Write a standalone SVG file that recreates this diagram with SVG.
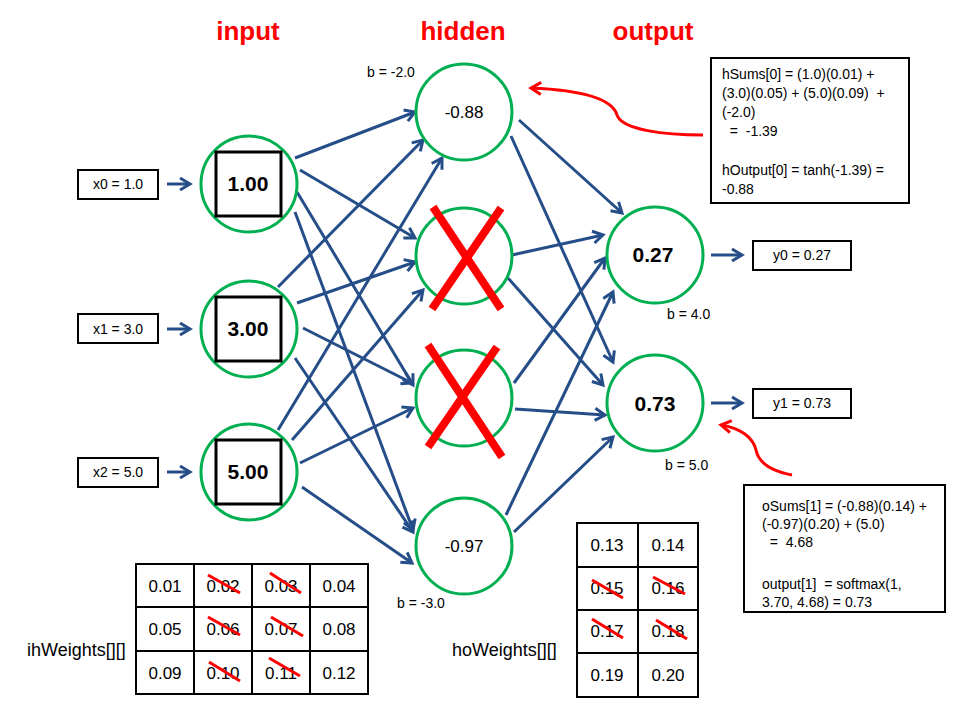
<svg xmlns="http://www.w3.org/2000/svg" width="960" height="720" viewBox="0 0 960 720">
<defs>
<style>
text{font-family:"Liberation Sans",Arial,sans-serif;fill:#000}
.title{font-size:26px;font-weight:bold;fill:#FF0000;text-anchor:middle}
.node{fill:#fff;stroke:#00B050;stroke-width:3}
.sq{fill:none;stroke:#000;stroke-width:3}
.box{fill:#fff;stroke:#000;stroke-width:2}
.val{font-size:21px;font-weight:bold;text-anchor:middle}
.hval{font-size:17px;text-anchor:middle}
.sm{font-size:14px}
.smc{font-size:14px;text-anchor:middle}
.note{font-size:14px}
.cell{font-size:17px;text-anchor:middle}
.lbl{font-size:18px}
.conn{stroke:#254E88;stroke-width:3;fill:none;marker-end:url(#ah)}
.x{stroke:#FF0000;stroke-width:8;stroke-linecap:butt}
.strike{stroke:#FF0000;stroke-width:3}
.tbl{fill:none;stroke:#000;stroke-width:2}
.red{stroke:#FF0000;stroke-width:3;fill:none;marker-end:url(#rh)}
</style>
<marker id="ah" markerUnits="userSpaceOnUse" markerWidth="16" markerHeight="16" viewBox="0 0 16 16" refX="13" refY="8" orient="auto"><path d="M3,2 L13,8 L3,14" fill="none" stroke="#254E88" stroke-width="3"/></marker>
<marker id="rh" markerUnits="userSpaceOnUse" markerWidth="16" markerHeight="16" viewBox="0 0 16 16" refX="13" refY="8" orient="auto"><path d="M3,2 L13,8 L3,14" fill="none" stroke="#FF0000" stroke-width="3"/></marker>
</defs>
<rect width="960" height="720" fill="#fff"/>

<g id="titles">
<text class="title" x="248" y="40">input</text>
<text class="title" x="463" y="40">hidden</text>
<text class="title" x="653" y="40">output</text>
</g>

<g id="connectors">
<line class="conn" x1="167" y1="184" x2="190" y2="184"/>
<line class="conn" x1="167" y1="329" x2="190" y2="329"/>
<line class="conn" x1="167" y1="472" x2="190" y2="472"/>
<line class="conn" x1="295" y1="158" x2="415" y2="112"/>
<line class="conn" x1="300" y1="170" x2="415" y2="238"/>
<line class="conn" x1="297" y1="192" x2="413" y2="385"/>
<line class="conn" x1="295" y1="212" x2="413" y2="530"/>
<line class="conn" x1="278" y1="287" x2="423" y2="140"/>
<line class="conn" x1="297" y1="303" x2="415" y2="262"/>
<line class="conn" x1="303" y1="328" x2="412" y2="383"/>
<line class="conn" x1="295" y1="358" x2="413" y2="532"/>
<line class="conn" x1="278" y1="430" x2="442" y2="158"/>
<line class="conn" x1="292" y1="440" x2="423" y2="290"/>
<line class="conn" x1="300" y1="463" x2="413" y2="408"/>
<line class="conn" x1="302" y1="487" x2="412" y2="563"/>
<line class="conn" x1="519" y1="120" x2="622" y2="213"/>
<line class="conn" x1="511" y1="136" x2="613" y2="362"/>
<line class="conn" x1="512" y1="255" x2="603" y2="235"/>
<line class="conn" x1="508" y1="278" x2="603" y2="385"/>
<line class="conn" x1="514" y1="383" x2="605" y2="258"/>
<line class="conn" x1="515" y1="409" x2="605" y2="415"/>
<line class="conn" x1="506" y1="515" x2="613" y2="292"/>
<line class="conn" x1="514" y1="532" x2="613" y2="437"/>
<line class="conn" x1="711" y1="255" x2="742" y2="255"/>
<line class="conn" x1="711" y1="403" x2="742" y2="403"/>
<path class="red" d="M703,135 C665,135 622,130 617,115 C612,98 580,90 531,88"/>
<path class="red" d="M792,475 C766,470 758,460 756,450 C753,437 740,428 721,425"/>
</g>

<g id="x0"><rect class="box" x="78" y="170" width="80" height="29"/><text class="smc" x="118" y="189">x0 = 1.0</text></g>
<g id="x1"><rect class="box" x="78" y="314" width="80" height="29"/><text class="smc" x="118" y="334">x1 = 3.0</text></g>
<g id="x2"><rect class="box" x="78" y="458" width="80" height="29"/><text class="smc" x="118" y="477">x2 = 5.0</text></g>

<g id="in0"><circle class="node" cx="249" cy="184" r="48"/><rect class="sq" x="216" y="152" width="65" height="64"/><text class="val" x="248" y="191">1.00</text></g>
<g id="in1"><circle class="node" cx="249" cy="329" r="48"/><rect class="sq" x="216" y="297" width="65" height="64"/><text class="val" x="248" y="336">3.00</text></g>
<g id="in2"><circle class="node" cx="249" cy="472" r="48"/><rect class="sq" x="216" y="440" width="65" height="64"/><text class="val" x="248" y="479">5.00</text></g>

<g id="h0"><circle class="node" cx="464" cy="112" r="48"/><text class="hval" x="464" y="118">-0.88</text><text class="sm" x="367" y="77">b = -2.0</text></g>
<g id="h1"><circle class="node" cx="464" cy="256" r="48"/><line class="x" x1="433" y1="207" x2="501" y2="309"/><line class="x" x1="501" y1="208" x2="432" y2="309"/></g>
<g id="h2"><circle class="node" cx="464" cy="398" r="48"/><line class="x" x1="428" y1="345" x2="502" y2="457"/><line class="x" x1="497" y1="347" x2="428" y2="447"/></g>
<g id="h3"><circle class="node" cx="464" cy="546" r="48"/><text class="hval" x="464" y="552">-0.97</text><text class="sm" x="397" y="608">b = -3.0</text></g>

<g id="o0"><circle class="node" cx="655" cy="255" r="48"/><text class="val" x="653" y="262">0.27</text><text class="sm" x="667" y="319">b = 4.0</text></g>
<g id="o1"><circle class="node" cx="655" cy="403" r="48"/><text class="val" x="655" y="411">0.73</text><text class="sm" x="665" y="470">b = 5.0</text></g>

<g id="y0"><rect class="box" x="753" y="241" width="98" height="29"/><text class="smc" x="802" y="260">y0 = 0.27</text></g>
<g id="y1"><rect class="box" x="753" y="389" width="98" height="29"/><text class="smc" x="802" y="408">y1 = 0.73</text></g>

<g id="note-hidden">
<rect class="box" x="711" y="58" width="198" height="145"/>
<text class="note" x="722" y="79">hSums[0] = (1.0)(0.01) +</text>
<text class="note" x="722" y="98" xml:space="preserve">(3.0)(0.05) + (5.0)(0.09)  +</text>
<text class="note" x="722" y="117">(-2.0)</text>
<text class="note" x="722" y="136" xml:space="preserve">  =  -1.39</text>
<text class="note" x="722" y="175">hOutput[0] = tanh(-1.39) =</text>
<text class="note" x="722" y="194">-0.88</text>
</g>

<g id="note-output">
<rect class="box" x="744" y="485" width="201" height="127"/>
<text class="note" x="762" y="511">oSums[1] = (-0.88)(0.14) +</text>
<text class="note" x="762" y="529">(-0.97)(0.20) + (5.0)</text>
<text class="note" x="762" y="547" xml:space="preserve">  =  4.68</text>
<text class="note" x="762" y="589" xml:space="preserve">output[1]  = softmax(1,</text>
<text class="note" x="762" y="607">3.70, 4.68) = 0.73</text>
</g>

<g id="ihWeights">
<rect class="tbl" x="136" y="564" width="232" height="130"/>
<line class="tbl" x1="194" y1="564" x2="194" y2="694"/>
<line class="tbl" x1="252" y1="564" x2="252" y2="694"/>
<line class="tbl" x1="310" y1="564" x2="310" y2="694"/>
<line class="tbl" x1="136" y1="607" x2="368" y2="607"/>
<line class="tbl" x1="136" y1="651" x2="368" y2="651"/>
<text class="cell" x="165" y="592">0.01</text>
<text class="cell" x="223" y="592">0.02</text>
<text class="cell" x="281" y="592">0.03</text>
<text class="cell" x="339" y="592">0.04</text>
<text class="cell" x="165" y="635">0.05</text>
<text class="cell" x="223" y="635">0.06</text>
<text class="cell" x="281" y="635">0.07</text>
<text class="cell" x="339" y="635">0.08</text>
<text class="cell" x="165" y="679">0.09</text>
<text class="cell" x="223" y="679">0.10</text>
<text class="cell" x="281" y="679">0.11</text>
<text class="cell" x="339" y="679">0.12</text>
<line class="strike" x1="208" y1="575" x2="240" y2="593"/>
<line class="strike" x1="270" y1="573" x2="301" y2="593"/>
<line class="strike" x1="208" y1="617" x2="240" y2="635"/>
<line class="strike" x1="271" y1="617" x2="303" y2="636"/>
<line class="strike" x1="209" y1="662" x2="240" y2="681"/>
<line class="strike" x1="269" y1="658" x2="300" y2="676"/>
<text class="lbl" x="27" y="656">ihWeights[][]</text>
</g>

<g id="hoWeights">
<rect class="tbl" x="577" y="523" width="121" height="174"/>
<line class="tbl" x1="638" y1="523" x2="638" y2="697"/>
<line class="tbl" x1="577" y1="567" x2="698" y2="567"/>
<line class="tbl" x1="577" y1="610" x2="698" y2="610"/>
<line class="tbl" x1="577" y1="653" x2="698" y2="653"/>
<text class="cell" x="607" y="551">0.13</text>
<text class="cell" x="668" y="551">0.14</text>
<text class="cell" x="607" y="594">0.15</text>
<text class="cell" x="668" y="594">0.16</text>
<text class="cell" x="607" y="637">0.17</text>
<text class="cell" x="668" y="637">0.18</text>
<text class="cell" x="607" y="681">0.19</text>
<text class="cell" x="668" y="681">0.20</text>
<line class="strike" x1="592" y1="580" x2="623" y2="598"/>
<line class="strike" x1="653" y1="577" x2="685" y2="594"/>
<line class="strike" x1="592" y1="619" x2="623" y2="638"/>
<line class="strike" x1="656" y1="620" x2="687" y2="639"/>
<text class="lbl" x="452" y="656">hoWeights[][]</text>
</g>
</svg>
